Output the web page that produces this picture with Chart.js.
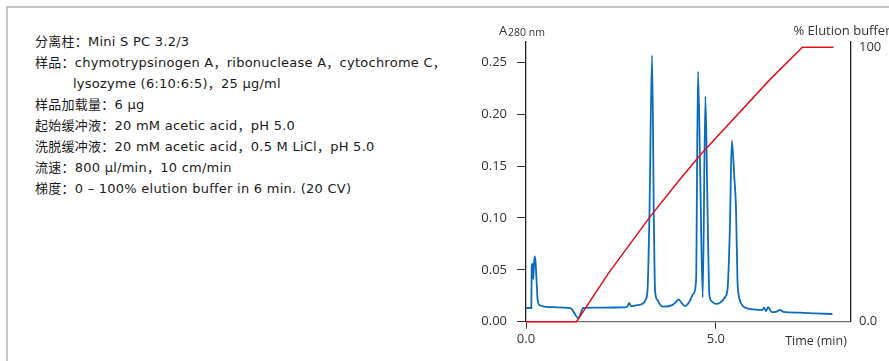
<!DOCTYPE html>
<html>
<head>
<meta charset="utf-8">
<title>Mini S PC 3.2/3</title>
<script src="https://cdn.jsdelivr.net/npm/chart.js@4.4.1/dist/chart.umd.min.js"></script>
<style>
  html, body { margin: 0; padding: 0; background: #fff; }
  #wrap { position: relative; width: 889px; height: 361px; overflow: hidden; }
  #frame {
    position: absolute; left: 6px; top: 6px; width: 1000px; height: 500px;
    border-top: 2px solid #c6c6c6; border-left: 2px solid #c6c6c6;
  }
  #notes {
    position: absolute; left: 35px; top: 31px;
    font: 13px "DejaVu Sans", "Noto Sans CJK SC", sans-serif; line-height: 21px;
    letter-spacing: 0.25px; color: #1a1a1a; white-space: nowrap;
  }
  #notes .indent { padding-left: 38px; }
  #chart { position: absolute; left: 0; top: 0; }
</style>
</head>
<body>
<div id="wrap">
  <div id="frame"></div>
  <div id="notes">
    <div>分离柱：Mini S PC 3.2/3</div>
    <div>样品：chymotrypsinogen A，ribonuclease A，cytochrome C，</div>
    <div class="indent">lysozyme (6:10:6:5)，25 μg/ml</div>
    <div>样品加载量：6 μg</div>
    <div>起始缓冲液：20 mM acetic acid，pH 5.0</div>
    <div>洗脱缓冲液：20 mM acetic acid，0.5 M LiCl，pH 5.0</div>
    <div>流速：800 μl/min，10 cm/min</div>
    <div>梯度：0 – 100% elution buffer in 6 min. (20 CV)</div>
  </div>
  <canvas id="chart" width="889" height="361"></canvas>
</div>
<script>
  // UV trace, A280 vs time (min)
  const uvTime = [
    0.00, 0.14, 0.15, 0.17, 0.19, 0.215, 0.24, 0.27, 0.31, 0.36, 0.45, 0.70, 1.00, 1.18,
    1.28, 1.37, 1.44, 1.50, 1.80, 2.30, 2.65, 2.72, 2.76, 2.90, 3.08, 3.15, 3.20, 3.25,
    3.32, 3.37, 3.40, 3.46, 3.55, 3.62, 3.85, 3.95, 4.02, 4.10, 4.19, 4.30, 4.41, 4.48,
    4.53, 4.59, 4.655, 4.725, 4.78, 4.83, 4.88, 5.00, 5.12, 5.25, 5.31, 5.37, 5.42, 5.49,
    5.53, 5.57, 5.60, 5.66, 5.73, 5.82, 6.00, 6.22, 6.27, 6.32, 6.38, 6.47, 6.60, 6.69,
    6.78, 7.20, 7.60, 8.07
  ];
  const uvAbs = [
    0.0132, 0.0132, 0.054, 0.056, 0.041, 0.058, 0.063, 0.045, 0.020, 0.016, 0.0148, 0.0140, 0.0135, 0.0128,
    0.008, 0.0035, 0.008, 0.0132, 0.0135, 0.0137, 0.0140, 0.0180, 0.0150, 0.0158, 0.0175, 0.021, 0.030, 0.100,
    0.2566, 0.090, 0.030, 0.021, 0.0155, 0.0145, 0.016, 0.019, 0.0216, 0.018, 0.0151, 0.019, 0.027, 0.040,
    0.241, 0.140, 0.0235, 0.217, 0.110, 0.026, 0.020, 0.0172, 0.0185, 0.024, 0.032, 0.090, 0.1746, 0.137,
    0.111, 0.040, 0.026, 0.018, 0.0145, 0.0129, 0.0118, 0.0112, 0.0135, 0.0103, 0.0139, 0.0092, 0.0098, 0.0113,
    0.0094, 0.0087, 0.0081, 0.0074
  ];

  // Gradient, % elution buffer vs time (min)
  const gradTime = [0.00, 1.33, 2.17, 3.27, 4.04, 4.63, 6.43, 7.28, 8.10];
  const gradPct = [0, 0, 17.6, 38.3, 51.6, 61.4, 88.3, 100, 100];

  const timeTicks = [0, 5];
  const absTicks = [0, 0.05, 0.10, 0.15, 0.20, 0.25];
  const pctTicks = [0, 100];

  const uvPoints = uvTime.map((t, i) => ({ x: t, y: uvAbs[i] }));
  const gradPoints = gradTime.map((t, i) => ({ x: t, y: gradPct[i] }));

  const tickFont = { family: "Open Sans", size: 13 };
  const textColor = "#333";

  // axis captions drawn straight onto the canvas
  const axisCaptions = {
    id: "axisCaptions",
    afterDraw(chart) {
      const { ctx, chartArea } = chart;
      ctx.save();
      ctx.fillStyle = textColor;
      ctx.textBaseline = "alphabetic";
      ctx.textAlign = "left";
      ctx.font = '13px "Open Sans"';
      ctx.fillText("A", chartArea.left - 27, 35);
      ctx.font = '10.5px "Open Sans"';
      ctx.fillText("280 nm", chartArea.left - 18, 36);
      ctx.font = '13px "Open Sans"';
      ctx.fillText("% Elution buffer", chartArea.right - 57, 35);
      ctx.font = '12.5px "Open Sans"';
      ctx.textAlign = "center";
      ctx.fillText("Time (min)", 816, 345);
      ctx.restore();
    },
  };

  new Chart(document.getElementById("chart"), {
    type: "line",
    data: {
      datasets: [
        {
          label: "% Elution buffer",
          data: gradPoints,
          yAxisID: "yPct",
          borderColor: "#e3101c",
          borderWidth: 1.5,
          pointRadius: 0,
          tension: 0,
          clip: false,
        },
        {
          label: "A280",
          data: uvPoints,
          yAxisID: "yAbs",
          borderColor: "#0b6cbd",
          borderWidth: 1.8,
          pointRadius: 0,
          cubicInterpolationMode: "monotone",
          clip: false,
        },
      ],
    },
    options: {
      responsive: false,
      animation: false,
      layout: { padding: { left: 466, top: 41.5, right: 0, bottom: 0 } },
      plugins: {
        legend: { display: false },
        tooltip: { enabled: false },
      },
      scales: {
        x: {
          type: "linear",
          min: 0,
          max: 8.547,
          afterFit: (s) => { s.height = 39.3; },
          afterBuildTicks: (s) => { s.ticks = timeTicks.map((v) => ({ value: v })); },
          border: { display: true, color: "#6e6e6e", width: 1.3 },
          grid: { drawOnChartArea: false, drawTicks: true, tickLength: 7, tickColor: "#333" },
          ticks: {
            font: tickFont,
            color: textColor,
            padding: 3,
            maxRotation: 0,
            callback: (v) => v.toFixed(1),
          },
        },
        yAbs: {
          position: "left",
          min: 0,
          max: 0.27,
          afterFit: (s) => { s.width = 60; },
          afterBuildTicks: (s) => { s.ticks = absTicks.map((v) => ({ value: v })); },
          border: { display: true, color: "#222", width: 1.3 },
          grid: { drawOnChartArea: false, drawTicks: true, tickLength: 9, tickColor: "#333" },
          ticks: {
            font: tickFont,
            color: textColor,
            padding: 10,
            callback: (v) => v.toFixed(2),
          },
        },
        yPct: {
          position: "right",
          min: 0,
          max: 102.1,
          afterFit: (s) => { s.width = 38.5; },
          afterBuildTicks: (s) => { s.ticks = pctTicks.map((v) => ({ value: v })); },
          border: { display: true, color: "#222", width: 1.3 },
          grid: { drawOnChartArea: false, drawTicks: false },
          ticks: {
            font: tickFont,
            color: textColor,
            padding: 8.5,
            callback: (v) => (v === 0 ? "0.0" : String(v)),
          },
        },
      },
    },
    plugins: [axisCaptions],
  });
</script>
</body>
</html>
